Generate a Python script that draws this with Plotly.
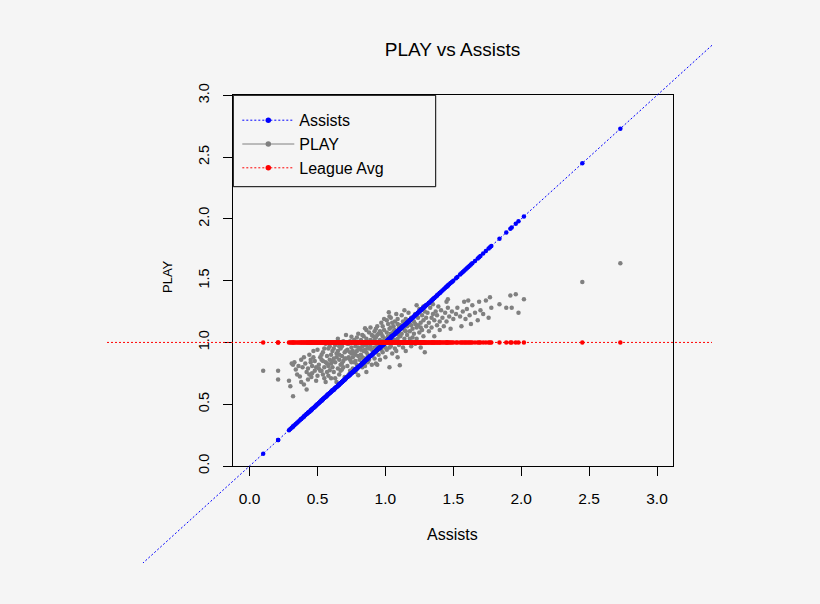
import plotly.graph_objects as go

# ---------------- data ----------------
assists = [
    0.10, 0.21, 0.21, 0.29,
    0.30, 0.31, 0.32, 0.32, 0.33, 0.34, 0.35, 0.36, 0.37, 0.38, 0.39, 0.38, 0.40, 0.40,
    0.42, 0.44, 0.45, 0.455, 0.49, 0.41, 0.43, 0.44, 0.46, 0.47, 0.48, 0.47, 0.43, 0.45, 0.49, 0.50, 0.46, 0.48, 0.42, 0.50,
    0.51, 0.52, 0.53, 0.53, 0.54, 0.55, 0.55, 0.56, 0.56, 0.57, 0.57, 0.58, 0.58, 0.59, 0.59, 0.60, 0.60, 0.52, 0.54, 0.55, 0.56, 0.57, 0.58, 0.59, 0.51, 0.53, 0.60, 0.54,
    0.61, 0.61, 0.62, 0.62, 0.63, 0.63, 0.64, 0.64, 0.65, 0.65, 0.66, 0.66, 0.67, 0.67, 0.68, 0.68, 0.69, 0.69, 0.70, 0.70, 0.62, 0.63, 0.64, 0.65, 0.66, 0.67, 0.68, 0.69, 0.70, 0.61, 0.66, 0.68,
    0.71, 0.75, 0.80, 0.72, 0.72, 0.73, 0.73, 0.74, 0.74, 0.75, 0.75, 0.76, 0.76, 0.77, 0.77, 0.78, 0.78, 0.79, 0.79, 0.80, 0.80, 0.71, 0.72, 0.73, 0.74, 0.76, 0.77, 0.78, 0.79, 0.71, 0.74, 0.76, 0.78, 0.80, 0.75,
    0.86, 0.85, 0.86, 0.81, 0.81, 0.82, 0.82, 0.83, 0.83, 0.84, 0.84, 0.85, 0.85, 0.86, 0.87, 0.87, 0.88, 0.88, 0.89, 0.89, 0.90, 0.90, 0.81, 0.82, 0.83, 0.84, 0.85, 0.86, 0.87, 0.88, 0.89, 0.90, 0.83, 0.85, 0.87, 0.89, 0.84, 0.86,
    0.93, 0.94, 0.91, 0.91, 0.92, 0.92, 0.93, 0.93, 0.94, 0.94, 0.95, 0.95, 0.96, 0.96, 0.97, 0.97, 0.98, 0.98, 0.99, 0.99, 1.00, 1.00, 0.91, 0.92, 0.93, 0.95, 0.96, 0.97, 0.98, 0.99, 1.00, 0.94, 0.96, 0.98, 0.92, 0.95, 0.97, 0.99,
    1.025, 1.03, 1.01, 1.01, 1.02, 1.02, 1.03, 1.04, 1.04, 1.05, 1.05, 1.06, 1.06, 1.07, 1.07, 1.08, 1.08, 1.09, 1.09, 1.10, 1.10, 1.01, 1.02, 1.03, 1.04, 1.05, 1.06, 1.07, 1.08, 1.09, 1.10, 1.03, 1.05, 1.07, 1.09, 1.04,
    1.106, 1.11, 1.11, 1.12, 1.12, 1.13, 1.13, 1.14, 1.14, 1.15, 1.15, 1.16, 1.16, 1.17, 1.17, 1.18, 1.18, 1.19, 1.19, 1.20, 1.20, 1.12, 1.14, 1.16, 1.18, 1.11, 1.15, 1.19,
    1.29, 1.21, 1.21, 1.22, 1.22, 1.23, 1.23, 1.24, 1.24, 1.25, 1.25, 1.26, 1.26, 1.27, 1.27, 1.28, 1.28, 1.29, 1.30, 1.30, 1.23, 1.26, 1.28, 1.22,
    1.31, 1.32, 1.32, 1.33, 1.34, 1.34, 1.35, 1.36, 1.36, 1.37, 1.38, 1.38, 1.39, 1.40, 1.40, 1.35,
    1.45, 1.41, 1.42, 1.43, 1.44, 1.45, 1.46, 1.47, 1.48, 1.49, 1.50, 1.46,
    1.56, 1.63, 1.61, 1.58, 1.52, 1.53, 1.55, 1.57, 1.59, 1.60, 1.62, 1.64, 1.66, 1.69, 1.68,
    1.70, 1.74, 1.76, 1.77, 1.78, 1.84, 1.89, 1.92, 1.93, 1.96, 1.98, 2.02, 1.72,
    2.45, 2.73,
]

play = [
    0.77, 0.77, 0.70, 0.69,
    0.645, 0.83, 0.82, 0.565, 0.84, 0.78, 0.74, 0.81, 0.725, 0.68, 0.80, 0.86, 0.88, 0.66,
    0.76, 0.90, 0.86, 0.72, 0.69, 0.83, 0.79, 0.74, 0.81, 0.88, 0.77, 0.93, 0.70, 0.84, 0.80, 0.94, 0.75, 0.85, 0.62, 0.73,
    0.82, 0.77, 0.86, 0.77, 0.92, 0.80, 0.71, 0.99, 0.84, 0.76, 0.89, 0.81, 0.95, 0.775, 0.86, 0.71, 0.90, 0.88, 0.74, 0.95, 0.68, 0.83, 0.73, 0.97, 0.79, 0.90, 0.83, 0.85,
    0.80, 0.93, 0.87, 0.76, 0.98, 0.84, 0.68, 0.91, 0.79, 1.03, 0.86, 0.74, 0.95, 0.82, 0.89, 0.78, 1.01, 0.85, 0.92, 0.72, 0.95, 0.71, 0.88, 0.93, 0.97, 0.77, 0.97, 0.80, 0.87, 0.85, 0.90, 0.83,
    1.06, 1.045, 1.07, 0.94, 0.81, 0.88, 0.99, 0.77, 0.92, 0.84, 0.96, 0.88, 0.79, 1.02, 0.91, 0.85, 0.97, 0.93, 0.82, 0.735, 0.89, 0.87, 0.99, 0.74, 0.86, 1.00, 0.84, 0.76, 1.04, 0.93, 1.01, 0.93, 0.90, 0.96, 0.91,
    1.10, 1.115, 0.76, 0.95, 0.86, 1.02, 0.90, 0.80, 0.97, 0.93, 1.05, 0.87, 0.99, 0.92, 1.00, 0.84, 0.95, 1.08, 0.89, 1.02, 0.94, 0.82, 1.00, 0.94, 0.88, 0.98, 0.94, 1.03, 0.96, 0.86, 0.97, 1.06, 1.06, 0.81, 0.90, 1.12, 0.87, 0.98,
    0.83, 0.82, 1.00, 0.91, 1.09, 0.96, 1.04, 0.93, 1.13, 0.98, 1.07, 0.90, 1.02, 0.95, 1.16, 0.99, 1.05, 0.92, 1.10, 0.97, 1.03, 0.88, 1.05, 0.87, 1.11, 1.00, 1.09, 0.94, 1.00, 1.19, 0.96, 1.06, 0.86, 1.13, 1.02, 0.95, 1.07, 1.02,
    1.245, 0.80, 1.08, 0.94, 1.15, 1.00, 1.11, 0.97, 1.20, 1.04, 0.91, 1.13, 1.01, 1.17, 0.95, 1.08, 1.23, 1.03, 0.88, 1.12, 0.98, 1.18, 1.05, 0.96, 1.07, 1.16, 1.09, 1.02, 0.93, 1.15, 1.06, 1.21, 1.00, 1.10, 1.19, 1.12,
    0.815, 1.14, 1.00, 1.22, 1.07, 0.96, 1.17, 1.10, 1.03, 1.19, 0.93, 1.13, 1.06, 1.24, 1.00, 1.15, 1.09, 0.97, 1.20, 1.11, 1.04, 1.12, 1.26, 1.18, 1.03, 1.05, 1.09, 1.14,
    0.92, 1.17, 1.07, 1.23, 0.99, 1.12, 1.03, 1.20, 1.14, 1.27, 1.08, 1.16, 0.96, 1.22, 1.10, 1.18, 1.05, 1.25, 1.13, 1.20, 1.30, 1.12, 1.29, 1.15,
    1.24, 1.16, 1.09, 1.28, 1.20, 1.12, 1.31, 1.18, 1.05, 1.25, 1.14, 1.22, 1.29, 1.17, 1.10, 1.23,
    1.33, 1.26, 1.20, 1.13, 1.24, 1.17, 1.28, 1.21, 1.11, 1.25, 1.19, 1.35,
    1.13, 1.15, 1.34, 1.33, 1.23, 1.28, 1.21, 1.25, 1.19, 1.27, 1.22, 1.30, 1.24, 1.33, 1.18,
    1.26, 1.34, 1.20, 1.365, 1.28, 1.31, 1.28, 1.38, 1.28, 1.39, 1.24, 1.35, 1.23,
    1.49, 1.64,
]

league_avg = 1.0
x_lim = [0.0, 3.0]
y_lim = [0.0, 3.0]
tick_vals = [0.0, 0.5, 1.0, 1.5, 2.0, 2.5, 3.0]
series_names = ["Assists", "PLAY", "League Avg"]
series_colors = ["#0000ff", "#808080", "#ff0000"]

assert len(assists) == len(play)

# ---------------- geometry ----------------
W, H = 820, 604
M = dict(l=107, r=108, t=45, b=41)          # figure region (where ablines reach)
PW = W - M["l"] - M["r"]
PH = H - M["t"] - M["b"]
BOX_L, BOX_R, BOX_T, BOX_B = 233.3, 673.3, 95.3, 466.0   # plot box in pixels


def px_x(px):
    return (px - M["l"]) / PW


def px_y(py):
    return (H - M["b"] - py) / PH


xdom = [px_x(BOX_L), px_x(BOX_R)]
ydom = [px_y(BOX_B), px_y(BOX_T)]
pad = 0.04 * (x_lim[1] - x_lim[0])
xr = [x_lim[0] - pad, x_lim[1] + pad]
yr = list(y_lim)
ppx = (BOX_R - BOX_L) / (xr[1] - xr[0])
ppy = (BOX_B - BOX_T) / (yr[1] - yr[0])
x2r = [xr[0] - (BOX_L - M["l"]) / ppx, xr[1] + (W - M["r"] - BOX_R) / ppx]
y2r = [yr[0] - (H - M["b"] - BOX_B) / ppy, yr[1] + (BOX_T - M["t"]) / ppy]

FONT = "Liberation Sans, Arial, sans-serif"
DOT = "2px,2px"
n = len(assists)

fig = go.Figure()

# empty trace so the boxed axes subplot is created
fig.add_trace(go.Scatter(x=[None], y=[None], mode="markers", xaxis="x", yaxis="y",
                         showlegend=False, hoverinfo="skip"))

# reference lines spanning the whole figure region
fig.add_trace(go.Scatter(x=x2r, y=x2r, mode="lines", xaxis="x2", yaxis="y2",
                         line=dict(color=series_colors[0], width=1, dash=DOT),
                         showlegend=False, hoverinfo="skip"))
fig.add_trace(go.Scatter(x=x2r, y=[league_avg, league_avg], mode="lines", xaxis="x2", yaxis="y2",
                         line=dict(color=series_colors[2], width=1, dash=DOT),
                         showlegend=False, hoverinfo="skip"))

# points
fig.add_trace(go.Scatter(x=assists, y=play, mode="markers", xaxis="x2", yaxis="y2",
                         marker=dict(color=series_colors[1], size=4.5, line=dict(width=0)),
                         showlegend=False, name=series_names[1]))
fig.add_trace(go.Scatter(x=assists, y=assists, mode="markers", xaxis="x2", yaxis="y2",
                         marker=dict(color=series_colors[0], size=4.5, line=dict(width=0)),
                         showlegend=False, name=series_names[0]))
fig.add_trace(go.Scatter(x=assists, y=[league_avg] * n, mode="markers", xaxis="x2", yaxis="y2",
                         marker=dict(color=series_colors[2], size=4.5, line=dict(width=0)),
                         showlegend=False, name=series_names[2]))

# legend entries
for name, col, dash in zip(series_names, series_colors, [DOT, "solid", DOT]):
    fig.add_trace(go.Scatter(x=[None], y=[None], mode="lines+markers", xaxis="x2", yaxis="y2",
                             name=name, line=dict(color=col, width=1, dash=dash),
                             marker=dict(color=col, size=5.5)))

axis_common = dict(showline=True, mirror=True, linecolor="black", linewidth=1,
                   ticks="outside", ticklen=9, tickwidth=1, tickcolor="black",
                   tickvals=tick_vals, tickformat=".1f", showgrid=False, zeroline=False,
                   fixedrange=True)

fig.update_layout(
    width=W, height=H,
    margin=dict(l=M["l"], r=M["r"], t=M["t"], b=M["b"], autoexpand=False),
    paper_bgcolor="#f5f5f5", plot_bgcolor="rgba(0,0,0,0)",
    font=dict(family=FONT, color="black"),
    xaxis=dict(domain=xdom, range=xr, anchor="y", ticklabelstandoff=9,
               tickfont=dict(size=15.5), **axis_common),
    yaxis=dict(domain=ydom, range=yr, anchor="x", tickangle=-90, ticklabelstandoff=9,
               tickfont=dict(size=14.5), **axis_common),
    xaxis2=dict(domain=[0, 1], range=x2r, anchor="y2", visible=False, fixedrange=True),
    yaxis2=dict(domain=[0, 1], range=y2r, anchor="x2", visible=False, fixedrange=True),
    title=dict(text="PLAY vs Assists", x=452.5 / W, xref="container", xanchor="center",
               y=1 - 49 / H, yref="container", yanchor="middle",
               font=dict(size=19, family=FONT, color="black")),
    showlegend=True,
    legend=dict(x=px_x(BOX_L + 4), y=px_y(BOX_T + 8), xanchor="left", yanchor="top",
                bgcolor="rgba(0,0,0,0)", borderwidth=0, font=dict(size=16, family=FONT),
                itemwidth=52, tracegroupgap=0),
    shapes=[dict(type="rect", xref="paper", yref="paper",
                 x0=px_x(BOX_L), x1=px_x(435.7), y0=px_y(186.7), y1=px_y(BOX_T),
                 line=dict(color="black", width=1), fillcolor="rgba(0,0,0,0)")],
    annotations=[
        dict(text="Assists", xref="paper", yref="paper", x=px_x(452.5), y=px_y(534),
             xanchor="center", yanchor="middle", showarrow=False, font=dict(size=16)),
        dict(text="PLAY", xref="paper", yref="paper", x=px_x(167), y=px_y(277),
             xanchor="center", yanchor="middle", showarrow=False, textangle=-90,
             font=dict(size=13)),
    ],
)

fig.write_html("out.html",
               config={"displayModeBar": False},
               post_script="document.body.style.margin='0';document.body.style.background='#f5f5f5';")
